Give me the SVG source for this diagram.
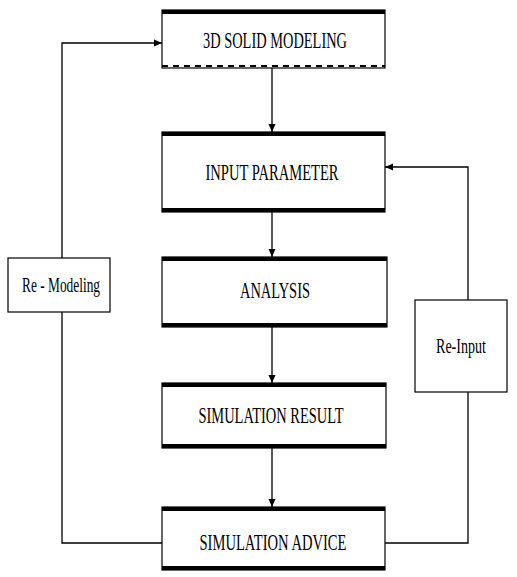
<svg xmlns="http://www.w3.org/2000/svg" width="517" height="577" viewBox="0 0 517 577">
<defs>
<marker id="ah" markerWidth="8" markerHeight="8" refX="8" refY="4" orient="auto" markerUnits="userSpaceOnUse">
<path d="M0,0.5 L8,4 L0,7.5 Z" fill="#000"/>
</marker>
<style>
.box{fill:#fff;stroke:#000;stroke-width:1.2}
.band{stroke:#000;stroke-width:4}
.dash{stroke:#000;stroke-width:2;stroke-dasharray:6 5}
.t{font-family:"Liberation Serif","Times New Roman",serif;font-size:24px;fill:#000}
.s{font-family:"Liberation Serif","Times New Roman",serif;font-size:21px;fill:#000}
.c{fill:none;stroke:#000;stroke-width:1.3}
</style>
</defs>
<rect width="517" height="577" fill="#fff"/>
<g id="connectors">
<line class="c" x1="272" y1="68" x2="272" y2="132" marker-end="url(#ah)"/>
<line class="c" x1="272" y1="212" x2="272" y2="257" marker-end="url(#ah)"/>
<line class="c" x1="272" y1="327" x2="272" y2="383" marker-end="url(#ah)"/>
<line class="c" x1="272" y1="448" x2="272" y2="507" marker-end="url(#ah)"/>
<polyline class="c" points="162,543 62,543 62,312"/>
<polyline class="c" points="62,258 62,43 162,43" marker-end="url(#ah)"/>
<polyline class="c" points="385,543 468,543 468,392"/>
<polyline class="c" points="468,300 468,167 385,167" marker-end="url(#ah)"/>
</g>
<g id="n1">
<rect class="box" x="162" y="10" width="223" height="58"/>
<line class="band" x1="162" y1="12" x2="385" y2="12"/>
<line class="dash" x1="162" y1="66" x2="385" y2="66"/>
<text class="t" x="275" y="48" text-anchor="middle" textLength="144" lengthAdjust="spacingAndGlyphs">3D SOLID MODELING</text>
</g>
<g id="n2">
<rect class="box" x="162" y="132" width="223" height="80"/>
<line class="band" x1="162" y1="134" x2="385" y2="134"/>
<line class="band" x1="162" y1="210" x2="385" y2="210"/>
<text class="t" x="272" y="180" text-anchor="middle" textLength="133" lengthAdjust="spacingAndGlyphs">INPUT PARAMETER</text>
</g>
<g id="n3">
<rect class="box" x="162" y="257" width="225" height="70"/>
<line class="band" x1="162" y1="259" x2="387" y2="259"/>
<line class="band" x1="162" y1="325" x2="387" y2="325"/>
<text class="t" x="275" y="298" text-anchor="middle" textLength="70" lengthAdjust="spacingAndGlyphs">ANALYSIS</text>
</g>
<g id="n4">
<rect class="box" x="162" y="383" width="224" height="65"/>
<line class="band" x1="162" y1="385" x2="386" y2="385"/>
<line class="band" x1="162" y1="446" x2="386" y2="446"/>
<text class="t" x="271" y="423" text-anchor="middle" textLength="145" lengthAdjust="spacingAndGlyphs">SIMULATION RESULT</text>
</g>
<g id="n5">
<rect class="box" x="162" y="507" width="223" height="63"/>
<line class="band" x1="162" y1="509" x2="385" y2="509"/>
<line class="band" x1="162" y1="568" x2="385" y2="568"/>
<text class="t" x="273" y="550" text-anchor="middle" textLength="147" lengthAdjust="spacingAndGlyphs">SIMULATION ADVICE</text>
</g>
<g id="remodel">
<rect class="box" x="8" y="258" width="102" height="54"/>
<text class="s" x="61" y="292" text-anchor="middle" textLength="78" lengthAdjust="spacingAndGlyphs">Re - Modeling</text>
</g>
<g id="reinput">
<rect class="box" x="415" y="300" width="92" height="92"/>
<text class="s" x="461" y="353" text-anchor="middle" textLength="50" lengthAdjust="spacingAndGlyphs">Re-Input</text>
</g>
</svg>
